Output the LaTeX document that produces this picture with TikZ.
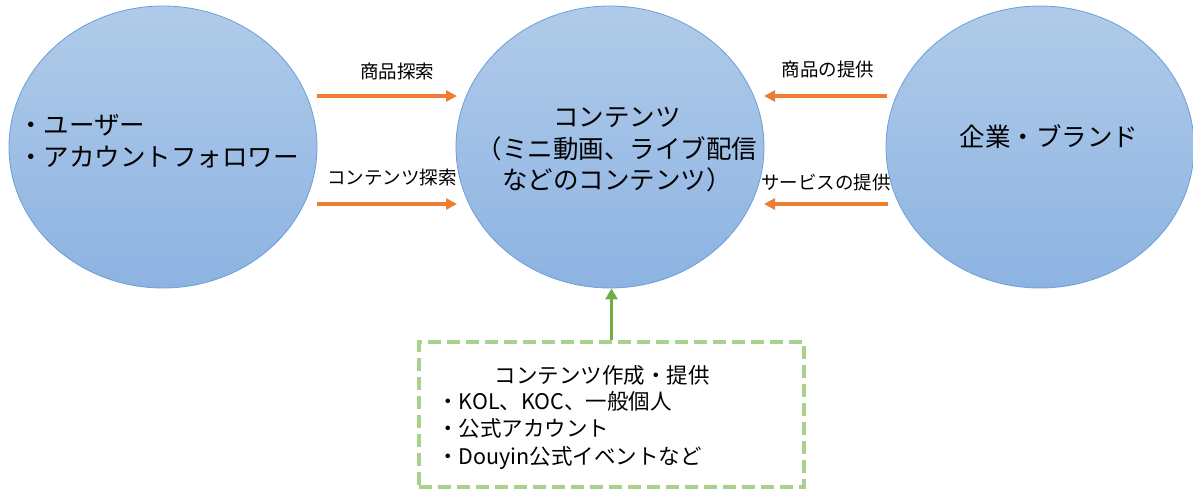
\documentclass[tikz,border=0pt]{standalone}
\usepackage{fontspec}
\setmainfont{Noto Sans CJK JP}
\usetikzlibrary{shapes.geometric,arrows.meta}
\definecolor{fillTop}{HTML}{B0CBE9}
\definecolor{fillBot}{HTML}{8DB3E2}
\definecolor{edgeBlue}{HTML}{6A9FD8}
\definecolor{orangeA}{HTML}{ED7D31}
\definecolor{greenA}{HTML}{70AD47}
\definecolor{greenD}{HTML}{A9D18E}
\begin{document}
\begin{tikzpicture}[x=1pt,y=-1pt,
  bubble/.style={ellipse, draw=edgeBlue, line width=0.8pt, top color=fillTop, bottom color=fillBot,
    minimum width=308pt, minimum height=282pt, inner sep=0pt},
  bigtxt/.style={font=\fontsize{25.5}{31.5}\selectfont, inner sep=0pt},
  lbl/.style={font=\fontsize{18.5}{22}\selectfont, inner sep=0pt},
  boxtxt/.style={font=\fontsize{21.5}{27.5}\selectfont, inner sep=0pt},
  flow/.style={draw=orangeA, line width=3.5pt, -{Triangle[length=11pt,width=11pt]}},
  gflow/.style={draw=greenA, line width=3.5pt, -{Triangle[length=11pt,width=12pt]}},
  srcbox/.style={draw=greenD, line width=3.5pt, dash pattern=on 13pt off 6pt,
    minimum width=385pt, minimum height=145pt, inner sep=0pt}
]
\useasboundingbox (0,0) rectangle (1193,490);

% ellipses
\node[bubble] (user) at (163,147) {};
\node[bubble] (mid) at (610,147) {};
\node[bubble] (firm) at (1040,147) {};

% texts inside ellipses
\node[bigtxt, anchor=west, align=left] (usertxt) at (18,141) {・ユーザー\\・アカウントフォロワー};
\node[bigtxt, align=center] (midtxt) at (617,150) {コンテンツ\\（ミニ動画、ライブ配信\\などのコンテンツ）};
\node[bigtxt] (firmtxt) at (1049,137) {企業・ブランド};

% arrow end coordinates
\coordinate (l1s) at (317,96);  \coordinate (l1e) at (457,96);
\coordinate (l2s) at (317,204); \coordinate (l2e) at (457,204);
\coordinate (r1s) at (887,96);  \coordinate (r1e) at (764,96);
\coordinate (r2s) at (888,204); \coordinate (r2e) at (764,204);

\draw[flow] (l1s) -- (l1e);
\draw[flow] (l2s) -- (l2e);
\draw[flow] (r1s) -- (r1e);
\draw[flow] (r2s) -- (r2e);

% arrow labels
\node[lbl] (lab1) at (397,71) {商品探索};
\node[lbl] (lab2) at (392,177) {コンテンツ探索};
\node[lbl] (lab3) at (828,69) {商品の提供};
\node[lbl] (lab4) at (826,182) {サービスの提供};

% source box
\node[srcbox] (src) at (611.5,414.5) {};
\node[boxtxt] (srctitle) at (602,375) {コンテンツ作成・提供};
\node[boxtxt, anchor=north west, align=left] (srclist) at (437,391) {・KOL、KOC、一般個人\\・公式アカウント\\・Douyin公式イベントなど};

\draw[gflow] (src.north) -- (src.north |- mid.south);
\end{tikzpicture}
\end{document}
